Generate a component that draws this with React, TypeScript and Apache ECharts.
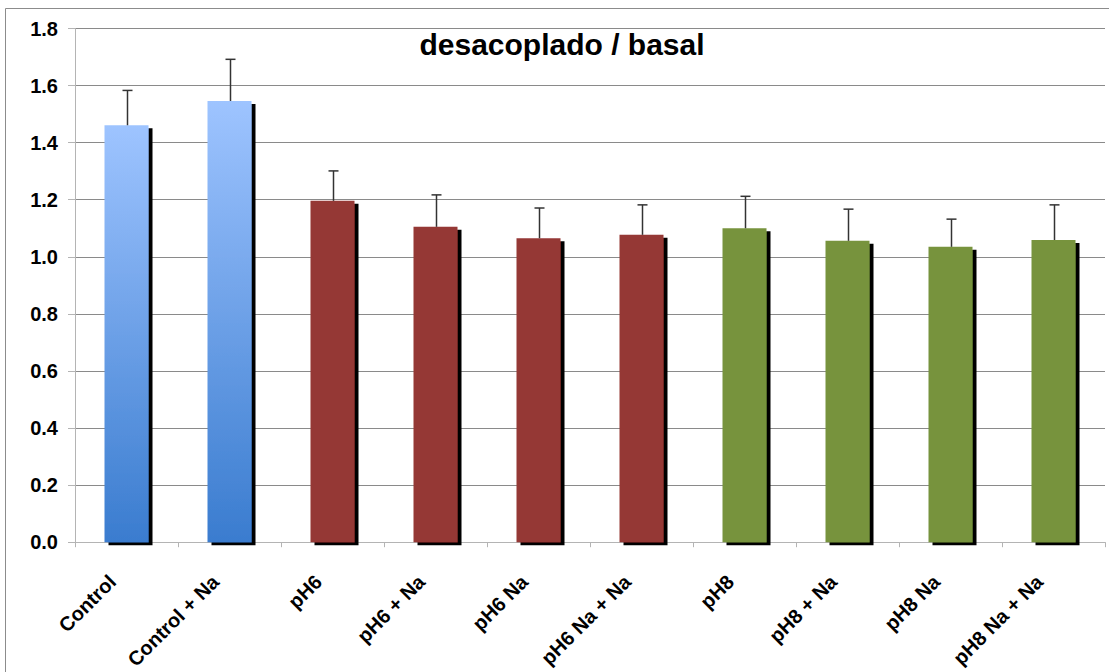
import React, { useEffect, useRef } from "react";
import * as echarts from "echarts";

const categories = [
  "Control",
  "Control + Na",
  "pH6",
  "pH6 + Na",
  "pH6 Na",
  "pH6 Na + Na",
  "pH8",
  "pH8 + Na",
  "pH8 Na",
  "pH8 Na + Na",
];
const values = [1.461, 1.546, 1.196, 1.105, 1.065, 1.077, 1.1, 1.056, 1.035, 1.059];
const errors = [0.122, 0.146, 0.105, 0.112, 0.106, 0.105, 0.112, 0.111, 0.097, 0.123];
const groups = ["control", "control", "ph6", "ph6", "ph6", "ph6", "ph8", "ph8", "ph8", "ph8"];
const yTicks = { min: 0, max: 1.8, interval: 0.2 };
const title = "desacoplado / basal";

export default function App() {
  const ref = useRef<HTMLDivElement>(null);
  useEffect(() => {
    if (!ref.current) return;
    const chart = echarts.init(ref.current, undefined, { renderer: "svg" });
    const colorFor = (g: string) => {
      if (g === "control")
        return new echarts.graphic.LinearGradient(0, 0, 0, 1, [
          { offset: 0, color: "#9ec4ff" },
          { offset: 1, color: "#3a7ccf" },
        ]);
      if (g === "ph6") return "#953735";
      return "#77933c";
    };
    const barData = values.map((v, i) => ({
      value: v,
      itemStyle: { color: colorFor(groups[i]) },
    }));
    const errData = values.map((v, i) => [i, v, v + errors[i]]);
    chart.setOption({
      animation: false,
      backgroundColor: "#ffffff",
      textStyle: { fontFamily: "'Liberation Sans', Arial, sans-serif" },
      grid: { left: 75, right: 4, top: 28.5, bottom: 129.5, containLabel: false },
      xAxis: {
        type: "category",
        data: categories,
        axisLine: { show: true, lineStyle: { color: "#b4b4b4", width: 1 } },
        axisTick: { show: true, length: 5, lineStyle: { color: "#b4b4b4" } },
        axisLabel: {
          rotate: 45,
          margin: 22,
          padding: [0, 20, 0, 0],
          fontSize: 20,
          fontWeight: "bold",
          color: "#000",
          interval: 0,
          fontFamily: "'Liberation Sans', Arial, sans-serif",
        },
        splitLine: { show: false },
      },
      yAxis: {
        type: "value",
        min: yTicks.min,
        max: yTicks.max,
        interval: yTicks.interval,
        axisLine: { show: true, lineStyle: { color: "#b4b4b4", width: 1 } },
        axisTick: { show: true, length: 7, lineStyle: { color: "#b4b4b4" } },
        axisLabel: {
          formatter: (v: number) => v.toFixed(1),
          fontSize: 20,
          fontWeight: "bold",
          color: "#000",
          margin: 17,
          fontFamily: "'Liberation Sans', Arial, sans-serif",
        },
        splitLine: { show: true, lineStyle: { color: "#8a8a8a", width: 1 } },
      },
      graphic: [
        {
          type: "rect",
          silent: true,
          shape: { x: 5.5, y: 8.5, width: 1300, height: 900 },
          style: { fill: "none", stroke: "#8c8c8c", lineWidth: 1 },
          z: -10,
        },
        {
          type: "text",
          x: 562,
          y: 44,
          style: {
            text: title,
            fontSize: 30,
            fontWeight: "bold",
            fill: "#000",
            align: "center",
            verticalAlign: "middle",
            fontFamily: "'Liberation Sans', Arial, sans-serif",
          },
          z: 100,
        },
      ],
      series: [
        {
          type: "bar",
          data: barData,
          barWidth: 44,
          itemStyle: {
            shadowColor: "#000000",
            shadowBlur: 0,
            shadowOffsetX: 4,
            shadowOffsetY: 3,
          },
          z: 2,
        },
        {
          type: "custom",
          data: errData,
          z: 5,
          renderItem: (params: any, api: any) => {
            const x = api.value(0);
            const lo = api.coord([x, api.value(1)]);
            const hi = api.coord([x, api.value(2)]);
            const cx = Math.round(lo[0]) + 0.5;
            const capW = 5;
            const style = { stroke: "#333", lineWidth: 1.5 };
            return {
              type: "group",
              children: [
                { type: "line", shape: { x1: cx, y1: lo[1], x2: cx, y2: hi[1] }, style },
                {
                  type: "line",
                  shape: { x1: cx - capW, y1: hi[1], x2: cx + capW, y2: hi[1] },
                  style,
                },
              ],
            };
          },
        },
      ],
    });
    return () => chart.dispose();
  }, []);
  return (
    <div
      ref={ref}
      style={{ position: "fixed", left: 0, top: 0, width: 1109, height: 672, background: "#fff" }}
    />
  );
}
